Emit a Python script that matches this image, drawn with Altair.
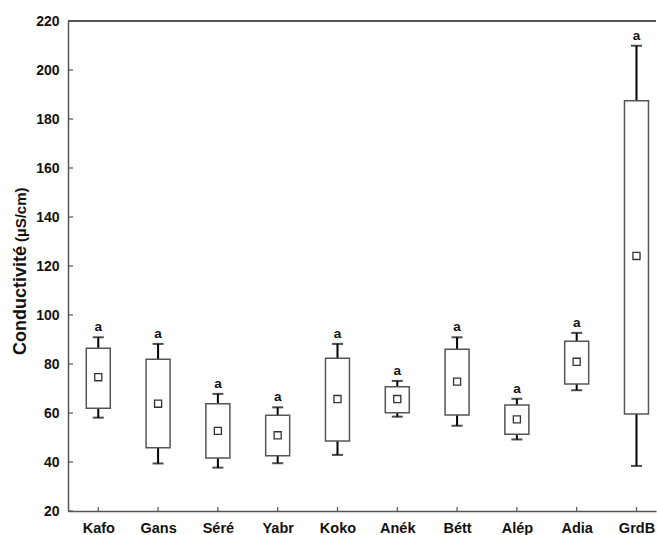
import altair as alt
import pandas as pd

# ---- data ----
sites = ["Kafo", "Gans", "Séré", "Yabr", "Koko", "Anék", "Bétt", "Alép", "Adia", "GrdB"]
whisker_low = [58.1, 39.4, 37.7, 39.5, 42.9, 58.5, 54.8, 49.2, 69.3, 38.4]
box_low = [61.9, 45.8, 41.6, 42.6, 48.6, 60.1, 59.2, 51.3, 71.8, 59.6]
mean_val = [74.6, 63.8, 52.7, 50.9, 65.7, 65.7, 72.8, 57.4, 80.9, 124.1]
box_high = [86.4, 81.9, 63.8, 59.1, 82.3, 70.7, 86.0, 63.3, 89.3, 187.5]
whisker_high = [90.9, 88.2, 67.8, 62.3, 88.2, 73.1, 90.9, 65.8, 92.7, 209.9]
letters = ["a"] * 10
y_ticks = [20, 40, 60, 80, 100, 120, 140, 160, 180, 200, 220]
title_main = "Conductivité"
title_unit = "(µS/cm)"

df = pd.DataFrame({
    "site": sites, "wlo": whisker_low, "q1": box_low, "mean": mean_val,
    "q3": box_high, "whi": whisker_high, "lab": letters,
})
ticks_df = pd.DataFrame({"v": y_ticks})

W, H = 588, 490
FONT = "Liberation Sans"
FRAME = "#555555"
INK = "#111111"

xs = alt.Scale(type="point", domain=sites, padding=0.4164, align=0.608)
ys = alt.Scale(domain=[20, 220], nice=False, zero=False)

x_enc = alt.X("site:N", scale=xs, sort=sites,
              axis=alt.Axis(title=None, labelFont=FONT, labelFontWeight="bold",
                            labelFontSize=14.5, labelColor=INK, labelAngle=0,
                            ticks=False, tickSize=0, labelPadding=10,
                            domainColor=FRAME, domainWidth=1.5, grid=False))
y_axis = alt.Axis(title=None, values=y_ticks, labelFont=FONT, labelFontWeight="bold",
                  labelFontSize=14, labelColor=INK, ticks=False, tickSize=0,
                  labelPadding=9, domainColor=FRAME, domainWidth=1.5, grid=False)

base = alt.Chart(df)

whisk = base.mark_rule(color="#000000", strokeWidth=2).encode(
    x=x_enc, y=alt.Y("wlo:Q", scale=ys, axis=y_axis), y2="whi:Q")
cap_lo = base.mark_tick(color="#000000", size=11, thickness=2).encode(
    x=alt.X("site:N", scale=xs, sort=sites), y=alt.Y("wlo:Q", scale=ys))
cap_hi = base.mark_tick(color="#000000", size=11, thickness=2).encode(
    x=alt.X("site:N", scale=xs, sort=sites), y=alt.Y("whi:Q", scale=ys))
box = base.mark_bar(size=24, fill="white", stroke=FRAME, strokeWidth=1.5).encode(
    x=alt.X("site:N", scale=xs, sort=sites), y=alt.Y("q1:Q", scale=ys), y2="q3:Q")
mean_pt = base.mark_point(shape="square", size=50, filled=True, fill="white",
                          stroke="#333333", strokeWidth=1.3, opacity=1).encode(
    x=alt.X("site:N", scale=xs, sort=sites), y=alt.Y("mean:Q", scale=ys))
lab = base.mark_text(font=FONT, fontWeight="bold", fontSize=13.5, color=INK,
                     baseline="alphabetic", dy=-6).encode(
    x=alt.X("site:N", scale=xs, sort=sites), y=alt.Y("whi:Q", scale=ys), text="lab:N")

x_in_ticks = base.mark_rule(color=FRAME, strokeWidth=1.2).encode(
    x=alt.X("site:N", scale=xs, sort=sites), y=alt.value(H - 4), y2=alt.value(H))
y_in_ticks = alt.Chart(ticks_df).mark_rule(color=FRAME, strokeWidth=1.2).encode(
    y=alt.Y("v:Q", scale=ys), x=alt.value(0), x2=alt.value(5))
top_line = alt.Chart(ticks_df).mark_rule(color=FRAME, strokeWidth=1.5).encode(
    y=alt.datum(220, scale=ys))

t1 = alt.Chart(alt.Data(values=[{"t": title_main}])).mark_text(
    font=FONT, fontWeight="bold", fontSize=18, color=INK, angle=270,
    align="left", baseline="alphabetic").encode(
    text="t:N", x=alt.value(-42), y=alt.value(334))
t2 = alt.Chart(alt.Data(values=[{"t": title_unit}])).mark_text(
    font=FONT, fontWeight="bold", fontSize=15, color=INK, angle=270,
    align="left", baseline="alphabetic").encode(
    text="t:N", x=alt.value(-42), y=alt.value(221))

chart = alt.layer(
    whisk, cap_lo, cap_hi, box, mean_pt, lab, x_in_ticks, y_in_ticks, top_line, t1, t2
).properties(
    width=W, height=H,
    autosize=alt.AutoSizeParams(type="none"),
    padding={"left": 68, "top": 21, "right": 1, "bottom": 24},
    background="white",
).configure_view(stroke=None)

chart.save("out.html", embed_options={"renderer": "svg", "actions": False})
